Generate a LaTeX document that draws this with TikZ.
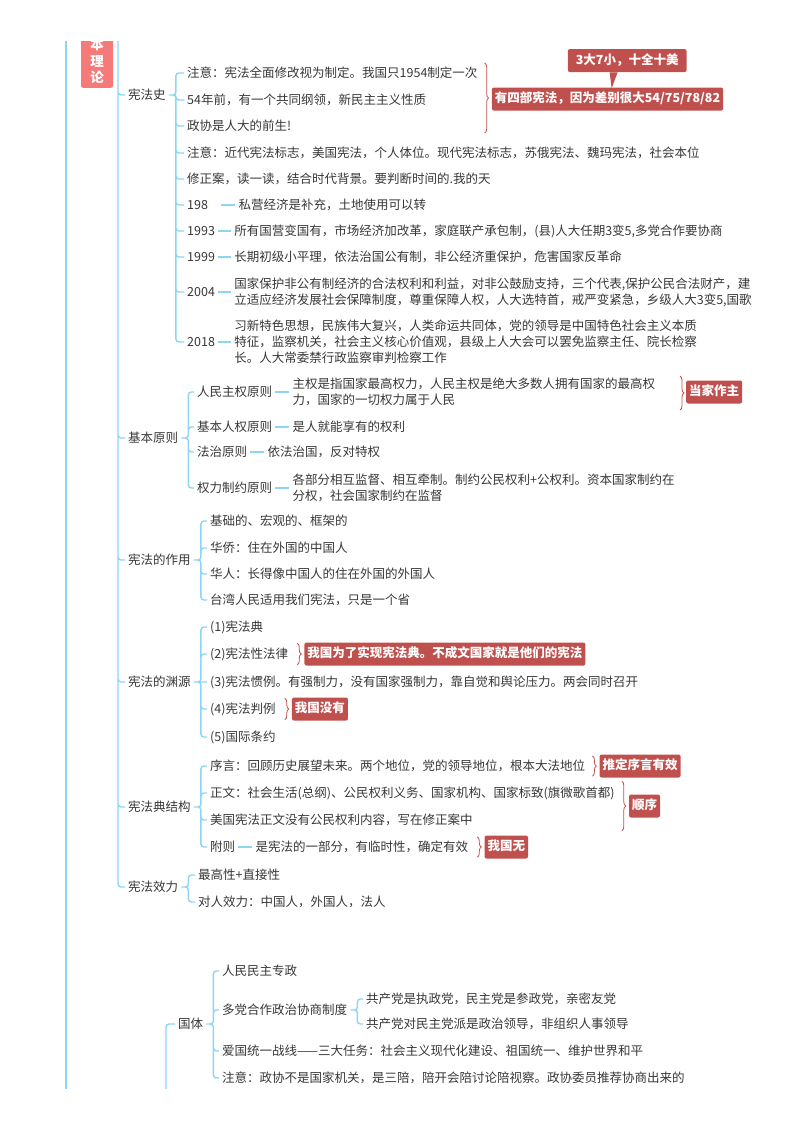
\documentclass[tikz,border=0pt]{standalone}
\usepackage{fontspec}
\setmainfont{Noto Sans CJK SC}
\usepackage{xcolor}
\usepackage{tikz}
\usetikzlibrary{positioning,decorations.pathreplacing}

\definecolor{linkblue}{RGB}{140,214,244}
\definecolor{tagred}{RGB}{192,80,78}
\definecolor{rootred}{RGB}{246,122,122}
\definecolor{inkgray}{RGB}{55,55,55}

\begin{document}
\begin{tikzpicture}[
    x=1pt, y=-1pt,
    font=\fontsize{12.5}{16}\selectfont,
    topic/.style={anchor=west, text=inkgray, align=left, inner xsep=3pt, inner ysep=1pt},
    tag/.style={anchor=west, fill=tagred, text=white, font=\fontsize{12.5}{16}\selectfont\bfseries, rounded corners=2pt, inner xsep=3pt, inner ysep=5.5pt, text height=9.5pt, text depth=2.5pt},
    link/.style={draw=linkblue, line width=1.4pt, rounded corners=3pt},
    trunk/.style={draw=linkblue, line width=2.4pt},
    curl/.style={draw=tagred, line width=0.8pt, decorate, decoration={brace, amplitude=4pt}}
]
\useasboundingbox (0,0) rectangle (800,1132);
\begin{scope}
\clip (0,42) rectangle (800,1088);

% Trunk and root
\coordinate (trunk_top) at (66,20);
\coordinate (trunk_bot) at (66,1100);
\coordinate (hub_top) at (118,20);
\coordinate (hub_bot) at (166,1100);
\draw[trunk] (trunk_top) -- (trunk_bot);
\node[fill=rootred, text=white, rounded corners=2pt, minimum width=32pt, inner ysep=4pt, align=center, font=\fontsize{13.5}{16.5}\selectfont\bfseries, anchor=south] (root) at (97,88) {基\\本\\理\\论};

% Main branches
\node[topic] (xfs) at (125,95) {宪法史};
\node[topic] (jbyz) at (125,438) {基本原则};
\node[topic] (zy) at (125,560) {宪法的作用};
\node[topic] (yy) at (125,682) {宪法的渊源};
\node[topic] (jg) at (125,807) {宪法典结构};
\node[topic] (xl) at (125,887) {宪法效力};
\draw[link] (hub_top) |- (xfs.west) (hub_top) |- (jbyz.west) (hub_top) |- (zy.west)
            (hub_top) |- (yy.west) (hub_top) |- (jg.west) (hub_top) |- (xl.west);

% Branch: 宪法史
\node[topic] (hist_a) at (184,73) {注意：宪法全面修改视为制定。我国只1954制定一次};
\node[topic] (hist_b) at (184,100) {54年前，有一个共同纲领，新民主主义性质};
\node[topic] (hist_c) at (184,126) {政协是人大的前生!};
\node[topic] (hist_d) at (184,153) {注意：近代宪法标志，美国宪法，个人体位。现代宪法标志，苏俄宪法、魏玛宪法，社会本位};
\node[topic] (hist_e) at (184,179) {修正案，读一读，结合时代背景。要判断时间的.我的天};
\node[topic, text width=31pt] (yr_198) at (184,205) {198};
\node[topic] (yr_1993) at (184,231) {1993};
\node[topic] (yr_1999) at (184,257) {1999};
\node[topic] (yr_2004) at (184,292) {2004};
\node[topic] (yr_2018) at (184,342) {2018};
\node[topic, right=14pt of yr_198] (nt_198) {私营经济是补充，土地使用可以转};
\node[topic, right=13pt of yr_1993] (nt_1993) {所有国营变国有，市场经济加改革，家庭联产承包制，(县)人大任期3变5,多党合作要协商};
\node[topic, right=13pt of yr_1999] (nt_1999) {长期初级小平理，依法治国公有制，非公经济重保护，危害国家反革命};
\node[topic, right=13pt of yr_2004] (nt_2004) {国家保护非公有制经济的合法权利和利益，对非公鼓励支持，三个代表,保护公民合法财产，建\\立适应经济发展社会保障制度，尊重保障人权，人大选特首，戒严变紧急，乡级人大3变5,国歌};
\node[topic, right=13pt of yr_2018] (nt_2018) {习新特色思想，民族伟大复兴，人类命运共同体，党的领导是中国特色社会主义本质\\特征，监察机关，社会主义核心价值观，县级上人大会可以罢免监察主任、院长检察\\长。人大常委禁行政监察审判检察工作};
\draw[link] (xfs.east) -- ++(7,0) |- (hist_a.west) (xfs.east) -- ++(7,0) |- (hist_b.west)
            (xfs.east) -- ++(7,0) |- (hist_c.west) (xfs.east) -- ++(7,0) |- (hist_d.west)
            (xfs.east) -- ++(7,0) |- (hist_e.west) (xfs.east) -- ++(7,0) |- (yr_198.west)
            (xfs.east) -- ++(7,0) |- (yr_1993.west) (xfs.east) -- ++(7,0) |- (yr_1999.west)
            (xfs.east) -- ++(7,0) |- (yr_2004.west) (xfs.east) -- ++(7,0) |- (yr_2018.west);
\draw[link] (yr_198.east) -- (nt_198.west);
\draw[link] (yr_1993.east) -- (nt_1993.west);
\draw[link] (yr_1999.east) -- (nt_1999.west);
\draw[link] (yr_2004.east) -- (nt_2004.west);
\draw[link] (yr_2018.east) -- (nt_2018.west);
\draw[curl] ([xshift=4pt,yshift=3pt]hist_a.north east) -- ([xshift=4pt,yshift=-53pt]hist_a.south east);
\node[tag, right=11pt of hist_a, yshift=-26pt] (tag_four) {有四部宪法，因为差别很大54/75/78/82};
\node[tag, anchor=south west, inner xsep=8pt] (tag_call) at ([xshift=76pt,yshift=15pt]tag_four.north west) {3大7小，十全十美};
\fill[tagred] ([xshift=42pt]tag_call.south west) -- ([xshift=50pt]tag_call.south west) -- ([xshift=120pt,yshift=-1pt]tag_four.north west) -- cycle;

% Branch: 基本原则
\node[topic] (prin_a) at (194,392) {人民主权原则};
\node[topic] (prin_b) at (194,427) {基本人权原则};
\node[topic] (prin_c) at (194,452) {法治原则};
\node[topic] (prin_d) at (194,488) {权力制约原则};
\node[topic, right=14pt of prin_a] (pnt_a) {主权是指国家最高权力，人民主权是绝大多数人拥有国家的最高权\\力，国家的一切权力属于人民};
\node[topic, right=14pt of prin_b] (pnt_b) {是人就能享有的权利};
\node[topic, right=14pt of prin_c] (pnt_c) {依法治国，反对特权};
\node[topic, right=14pt of prin_d] (pnt_d) {各部分相互监督、相互牵制。制约公民权利+公权利。资本国家制约在\\分权，社会国家制约在监督};
\draw[link] (jbyz.east) -- ++(7,0) |- (prin_a.west) (jbyz.east) -- ++(7,0) |- (prin_b.west)
            (jbyz.east) -- ++(7,0) |- (prin_c.west) (jbyz.east) -- ++(7,0) |- (prin_d.west);
\draw[link] (prin_a.east) -- (pnt_a.west);
\draw[link] (prin_b.east) -- (pnt_b.west);
\draw[link] (prin_c.east) -- (pnt_c.west);
\draw[link] (prin_d.east) -- (pnt_d.west);
\draw[curl] (680,376) -- (680,410);
\node[tag] (tag_host) at (686,392) {当家作主};

% Branch: 宪法的作用
\node[topic] (use_a) at (207,521) {基础的、宏观的、框架的};
\node[topic] (use_b) at (207,548) {华侨：住在外国的中国人};
\node[topic] (use_c) at (207,574) {华人：长得像中国人的住在外国的外国人};
\node[topic] (use_d) at (207,600) {台湾人民适用我们宪法，只是一个省};
\draw[link] (zy.east) -- ++(7,0) |- (use_a.west) (zy.east) -- ++(7,0) |- (use_b.west)
            (zy.east) -- ++(7,0) |- (use_c.west) (zy.east) -- ++(7,0) |- (use_d.west);

% Branch: 宪法的渊源
\node[topic] (src_a) at (207,627) {(1)宪法典};
\node[topic] (src_b) at (207,654) {(2)宪法性法律};
\node[topic] (src_c) at (207,682) {(3)宪法惯例。有强制力，没有国家强制力，靠自觉和舆论压力。两会同时召开};
\node[topic] (src_d) at (207,709) {(4)宪法判例};
\node[topic] (src_e) at (207,737) {(5)国际条约};
\draw[link] (yy.east) -- ++(7,0) |- (src_a.west) (yy.east) -- ++(7,0) |- (src_b.west)
            (yy.east) -- (src_c.west)
            (yy.east) -- ++(7,0) |- (src_d.west) (yy.east) -- ++(7,0) |- (src_e.west);
\draw[curl] ([xshift=6pt,yshift=3pt]src_b.north east) -- ([xshift=6pt,yshift=-3pt]src_b.south east);
\node[tag, right=13pt of src_b] (tag_code) {我国为了实现宪法典。不成文国家就是他们的宪法};
\draw[curl] ([xshift=6pt,yshift=3pt]src_d.north east) -- ([xshift=6pt,yshift=-3pt]src_d.south east);
\node[tag, right=13pt of src_d] (tag_none) {我国没有};

% Branch: 宪法典结构
\node[topic] (str_a) at (207,766) {序言：回顾历史展望未来。两个地位，党的领导地位，根本大法地位};
\node[topic] (str_b) at (207,793) {正文：社会生活(总纲)、公民权利义务、国家机构、国家标致(旗微歌首都)};
\node[topic] (str_c) at (207,820) {美国宪法正文没有公民权利内容，写在修正案中};
\node[topic] (str_d) at (207,847) {附则};
\node[topic, right=14pt of str_d] (snt_d) {是宪法的一部分，有临时性，确定有效};
\draw[link] (jg.east) -- ++(7,0) |- (str_a.west) (jg.east) -- ++(7,0) |- (str_b.west)
            (jg.east) -- ++(7,0) |- (str_c.west) (jg.east) -- ++(7,0) |- (str_d.west);
\draw[link] (str_d.east) -- (snt_d.west);
\draw[curl] ([xshift=4pt,yshift=3pt]str_a.north east) -- ([xshift=4pt,yshift=-3pt]str_a.south east);
\node[tag, right=11pt of str_a] (tag_pre) {推定序言有效};
\draw[curl] ([xshift=4pt,yshift=4pt]str_b.north east) -- ([xshift=4pt,yshift=-30pt]str_b.south east);
\node[tag, right=11pt of str_b, yshift=-13pt] (tag_order) {顺序};
\draw[curl] ([xshift=6pt,yshift=3pt]snt_d.north east) -- ([xshift=6pt,yshift=-3pt]snt_d.south east);
\node[tag, right=13pt of snt_d] (tag_nope) {我国无};

% Branch: 宪法效力
\node[topic] (eff_a) at (195,875) {最高性+直接性};
\node[topic] (eff_b) at (195,902) {对人效力：中国人，外国人，法人};
\draw[link] (xl.east) -- ++(7,0) |- (eff_a.west) (xl.east) -- ++(7,0) |- (eff_b.west);

% Next part: 国体
\node[topic] (gt) at (175,1024) {国体};
\draw[link] (hub_bot) |- (gt.west);
\node[topic] (gt_a) at (219,971) {人民民主专政};
\node[topic] (gt_b) at (219,1010) {多党合作政治协商制度};
\node[topic] (gt_c) at (219,1051) {爱国统一战线——三大任务：社会主义现代化建设、祖国统一、维护世界和平};
\node[topic] (gt_d) at (219,1078) {注意：政协不是国家机关，是三陪，陪开会陪讨论陪视察。政协委员推荐协商出来的};
\draw[link] (gt.east) -- ++(7,0) |- (gt_a.west) (gt.east) -- ++(7,0) |- (gt_b.west)
            (gt.east) -- ++(7,0) |- (gt_c.west) (gt.east) -- ++(7,0) |- (gt_d.west);
\node[topic] (party_a) at (363,999) {共产党是执政党，民主党是参政党，亲密友党};
\node[topic] (party_b) at (363,1024) {共产党对民主党派是政治领导，非组织人事领导};
\draw[link] (gt_b.east) -- ++(7,0) |- (party_a.west) (gt_b.east) -- ++(7,0) |- (party_b.west);
\end{scope}

\end{tikzpicture}
\end{document}
